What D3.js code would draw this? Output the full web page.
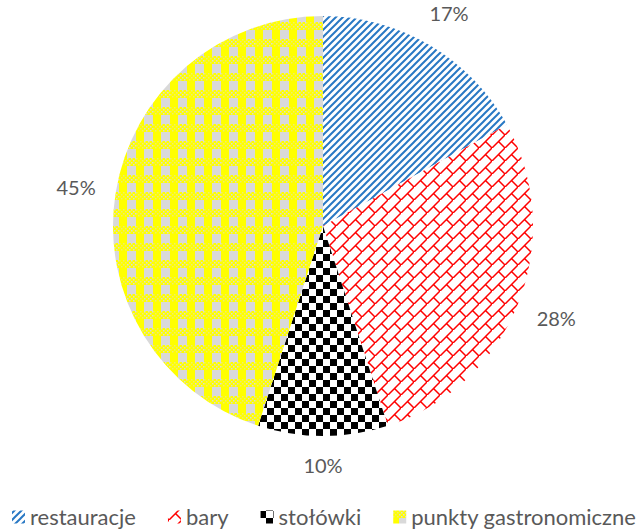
<!DOCTYPE html>
<html><head><meta charset="utf-8">
<script src="https://cdn.jsdelivr.net/npm/d3@7"></script>
<style>html,body{margin:0;padding:0;background:#fff}svg{display:block}</style>
</head><body>
<script>
const categories = ["restauracje", "bary", "stołówki", "punkty gastronomiczne"];
const values = [17, 28, 10, 45];
const labels = ["17%", "28%", "10%", "45%"];

const W = 644, H = 531;
const cx = 323, cy = 226, R = 210;
const FONT = "Lato, 'Open Sans', sans-serif";
const TXT = "#595959";

const svg = d3.select("body").append("svg").attr("width", W).attr("height", H);
const defs = svg.append("defs");

// pattern: restauracje (blue wide upward diagonal)
const p0 = defs.append("pattern").attr("id", "p0").attr("patternUnits", "userSpaceOnUse")
  .attr("width", 7).attr("height", 7);
p0.append("rect").attr("width", 7).attr("height", 7).attr("fill", "#fff");
p0.append("path").attr("d", "M-1,8 L8,-1 M-4,4 L4,-4 M3,11 L11,3")
  .attr("stroke", "#2878C4").attr("stroke-width", 2);

// pattern: bary (red diagonal brick)
const s = 13;
const p1 = defs.append("pattern").attr("id", "p1").attr("patternUnits", "userSpaceOnUse")
  .attr("width", s).attr("height", s);
p1.append("rect").attr("width", s).attr("height", s).attr("fill", "#fff");
p1.append("path")
  .attr("d", `M-1,${s+1} L${s+1},-1 M-1,${-s-1} L${s+1},${1-s} M${s/2},${s/2} L${s},${s}`)
  .attr("stroke", "#FF0000").attr("stroke-width", 1.5).attr("fill", "none");

// pattern: stołówki (checkerboard)
const c = 7;
const p2 = defs.append("pattern").attr("id", "p2").attr("patternUnits", "userSpaceOnUse")
  .attr("width", 2*c).attr("height", 2*c);
p2.append("rect").attr("width", 2*c).attr("height", 2*c).attr("fill", "#fff");
p2.append("rect").attr("x", 0).attr("y", 0).attr("width", c).attr("height", c).attr("fill", "#000");
p2.append("rect").attr("x", c).attr("y", c).attr("width", c).attr("height", c).attr("fill", "#000");

// pattern: punkty gastronomiczne (yellow / gray plaid)
const t = 17;
const p3 = defs.append("pattern").attr("id", "p3").attr("patternUnits", "userSpaceOnUse")
  .attr("width", t).attr("height", t);
p3.append("rect").attr("width", t).attr("height", t).attr("fill", "#FFFF00");
p3.append("rect").attr("x", 8).attr("y", 8).attr("width", 9).attr("height", 9).attr("fill", "#D9D9D9");
for (let yy = 0; yy < 8; yy += 2) {
  for (let xx = 0; xx < t; xx += 2) {
    if (((xx + yy) / 2) % 2 === 0) {
      p3.append("rect").attr("x", xx).attr("y", yy).attr("width", 1.5).attr("height", 1.5)
        .attr("fill", xx >= 8 ? "#D9D9D9" : "#EDED70");
    }
  }
}

const fills = ["url(#p0)", "url(#p1)", "url(#p2)", "url(#p3)"];

const pie = d3.pie().sort(null).value(d => d)(values);
const arc = d3.arc().innerRadius(0).outerRadius(R);

const g = svg.append("g").attr("transform", `translate(${cx},${cy})`);
g.selectAll("path.slice").data(pie).join("path").attr("class", "slice")
  .attr("d", arc).attr("fill", (d, i) => fills[i]);

// labels
const lblSize = 20;
const lg = svg.append("g");
const lt = lg.selectAll("text").data(pie).join("text")
  .attr("font-family", FONT).attr("font-size", lblSize).attr("fill", TXT)
  .attr("text-anchor", "middle").attr("dominant-baseline", "central")
  .text((d, i) => labels[i]);
lt.each(function(d) {
  const bb = this.getBBox();
  const a = (d.startAngle + d.endAngle) / 2;
  const ux = Math.sin(a), uy = -Math.cos(a);
  const dist = R + 19 + (bb.width / 2) * Math.abs(ux) + 10 * Math.abs(uy);
  d3.select(this).attr("x", cx + dist * ux).attr("y", cy + dist * uy);
});

// legend
const legSize = 22;
const ly = 516;
let x = 12;
const leg = svg.append("g");
categories.forEach((name, i) => {
  leg.append("rect").attr("x", x).attr("y", ly - 5.5).attr("width", 13).attr("height", 13).attr("fill", fills[i]);
  const tx = leg.append("text").attr("x", x + 18).attr("y", ly)
    .attr("font-family", FONT).attr("font-size", legSize).attr("fill", TXT)
    .attr("dominant-baseline", "central").text(name);
  x = x + 18 + tx.node().getComputedTextLength() + 32;
});
</script>
</body></html>
